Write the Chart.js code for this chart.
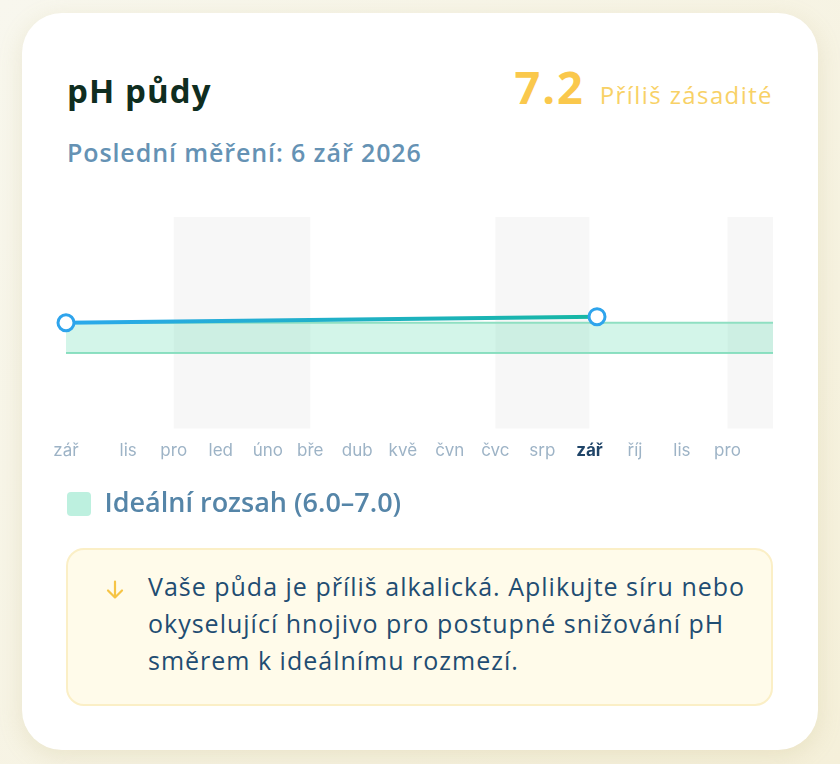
<!DOCTYPE html>
<html lang="cs">
<head>
<meta charset="utf-8">
<script src="https://cdn.jsdelivr.net/npm/chart.js@4.4.1/dist/chart.umd.min.js"></script>
<style>
  html, body { margin: 0; padding: 0; }
  body {
    width: 840px; height: 764px; overflow: hidden; position: relative;
    background: linear-gradient(135deg, #f8f7ee 0%, #f5f0da 100%);
    font-family: "Open Sans", "Noto Sans", sans-serif;
  }
  .card {
    position: absolute; left: 22px; top: 13px; width: 796px; height: 737px;
    background: #ffffff; border-radius: 40px;
    box-shadow: 0 6px 24px rgba(180, 160, 90, 0.18);
  }
  .title {
    position: absolute; left: 67px; top: 67px; margin: 0;
    font-size: 33px; font-weight: 700; color: #0f2d20; line-height: 48px;
    letter-spacing: 1.1px; white-space: nowrap;
  }
  .subtitle {
    position: absolute; left: 67px; top: 135px;
    font-size: 25px; font-weight: 600; color: #6592b4; line-height: 34px;
    letter-spacing: 0.9px; white-space: nowrap;
  }
  .status {
    position: absolute; right: 67px; top: 56px; white-space: nowrap;
    display: flex; align-items: baseline; gap: 15px;
  }
  .status .val { font-size: 45px; font-weight: 700; color: #fac84c; letter-spacing: 2px; }
  .status .lbl { font-size: 24px; font-weight: 500; color: #f8d166; letter-spacing: 1.4px; }
  .chartwrap { position: absolute; left: 40px; top: 190px; width: 760px; height: 340px; }
  .tip {
    position: absolute; left: 66px; top: 548px; width: 703px; height: 154px;
    background: #fffbea; border: 2px solid #fbefc6; border-radius: 18px;
  }
  .tip svg { position: absolute; left: 37px; top: 30px; }
  .tip .text {
    position: absolute; left: 80px; top: 18px;
    font-size: 25px; font-weight: 500; color: #1f4d72; line-height: 37px;
    letter-spacing: 1px; white-space: nowrap;
  }
</style>
</head>
<body>
<div class="card"></div>
<h1 class="title">pH půdy</h1>
<div class="subtitle">Poslední měření: 6 zář 2026</div>
<div class="status"><span class="val">7.2</span><span class="lbl">Příliš zásadité</span></div>
<div class="chartwrap"><canvas id="c" width="760" height="340"></canvas></div>
<div class="tip">
  <svg width="20" height="20" viewBox="0 0 20 20"><path d="M10 1.5 V17.5 M3 10.5 L10 17.5 L17 10.5" fill="none" stroke="#f6c445" stroke-width="2.2" stroke-linecap="round" stroke-linejoin="round"/></svg>
  <div class="text">Vaše půda je příliš alkalická. Aplikujte síru nebo<br>okyselující hnojivo pro postupné snižování pH<br>směrem k ideálnímu rozmezí.</div>
</div>
<script>
// ---- data ----
const measurementDates = ['2025-09-21', '2026-09-06'];
const phValues = [7.0, 7.2];
const idealRange = [6.0, 7.0];
const idealLabel = 'Ideální rozsah (6.0–7.0)';
const axisRange = ['2025-09-21', '2026-12-31'];
const yRange = [3.5, 10.5];
const monthLabels = ['led', 'úno', 'bře', 'dub', 'kvě', 'čvn', 'čvc', 'srp', 'zář', 'říj', 'lis', 'pro'];
const shadedPeriods = [['2025-12-01', '2026-03-01'], ['2026-07-01', '2026-09-01'], ['2026-12-01', '2026-12-31']];
const currentMonth = '2026-09';

// ---- helpers ----
const DAY = 86400000;
const toDay = s => Date.parse(s + 'T00:00:00Z') / DAY;
const fromDay = d => new Date(d * DAY);
const xMin = toDay(axisRange[0]);
const xMax = toDay(axisRange[1]);

const phPoints = measurementDates.map((d, i) => ({ x: toDay(d), y: phValues[i] }));
const idealHigh = [{ x: xMin, y: idealRange[1] }, { x: xMax, y: idealRange[1] }];
const idealLow = [{ x: xMin, y: idealRange[0] }, { x: xMax, y: idealRange[0] }];

function monthKey(v) {
  const d = fromDay(v);
  return d.getUTCFullYear() + '-' + String(d.getUTCMonth() + 1).padStart(2, '0');
}
const isCurrent = c => c.tick && c.index > 0 && monthKey(c.tick.value) === currentMonth;

const shadePlugin = {
  id: 'shade',
  beforeDatasetsDraw(chart) {
    const { ctx, chartArea, scales: { x } } = chart;
    ctx.save();
    ctx.fillStyle = '#f7f7f7';
    shadedPeriods.forEach(([a, b]) => {
      const x1 = Math.max(x.getPixelForValue(toDay(a)), chartArea.left);
      const x2 = Math.min(x.getPixelForValue(toDay(b)), chartArea.right);
      ctx.fillRect(x1, chartArea.top, x2 - x1, chartArea.bottom - chartArea.top);
    });
    ctx.restore();
  }
};

const ctx = document.getElementById('c').getContext('2d');
new Chart(ctx, {
  type: 'line',
  data: {
    datasets: [
      {
        label: 'pH',
        data: phPoints,
        clip: false,
        borderWidth: 4,
        borderColor(c) {
          const ca = c.chart.chartArea;
          if (!ca) return '#2aa7e6';
          const xs = c.chart.scales.x;
          const g = c.chart.ctx.createLinearGradient(xs.getPixelForValue(phPoints[0].x), 0, xs.getPixelForValue(phPoints[phPoints.length - 1].x), 0);
          g.addColorStop(0, '#2ba9ec');
          g.addColorStop(1, '#16b7a4');
          return g;
        },
        pointRadius: 8,
        pointBorderWidth: 3,
        pointBackgroundColor: '#ffffff',
        pointBorderColor: '#2ea4ec',
        fill: false,
        order: 0
      },
      {
        label: idealLabel,
        data: idealHigh,
        borderColor: '#8fdfc2',
        borderWidth: 2,
        backgroundColor: 'rgba(118, 224, 188, 0.32)',
        pointRadius: 0,
        fill: '+1',
        order: 1
      },
      {
        label: 'low',
        data: idealLow,
        borderColor: '#8fdfc2',
        borderWidth: 2,
        backgroundColor: 'rgba(118, 224, 188, 0.32)',
        pointRadius: 0,
        fill: false,
        order: 2
      }
    ]
  },
  options: {
    responsive: false,
    animation: false,
    layout: { padding: { left: 26, right: 27, top: 27, bottom: 2.5 } },
    plugins: {
      tooltip: { enabled: false },
      legend: {
        position: 'bottom',
        align: 'start',
        labels: {
          boxWidth: 24,
          boxHeight: 24,
          useBorderRadius: true,
          borderRadius: 4,
          padding: 1,
          color: '#5585a8',
          font: { family: '"Open Sans", sans-serif', size: 27, weight: '600' },
          generateLabels() {
            return [{
              text: idealLabel,
              fillStyle: '#bdf0df',
              strokeStyle: '#bdf0df',
              lineWidth: 0,
              borderRadius: 4,
              datasetIndex: 1,
              fontColor: '#5585a8'
            }];
          }
        }
      }
    },
    scales: {
      x: {
        type: 'linear',
        min: xMin,
        max: xMax,
        grid: { display: false },
        border: { display: false },
        afterFit(axis) { axis.height = 61; },
        afterBuildTicks(axis) {
          const ticks = [{ value: xMin }];
          const start = fromDay(xMin);
          let y = start.getUTCFullYear(), m = start.getUTCMonth() + 1;
          while (true) {
            const v = Date.UTC(y, m, 1) / DAY;
            if (v > xMax) break;
            if (v - xMin > 20) ticks.push({ value: v });
            m++; if (m > 11) { m = 0; y++; }
          }
          axis.ticks = ticks;
        },
        ticks: {
          autoSkip: false,
          maxRotation: 0,
          padding: 4,
          callback: v => monthLabels[fromDay(v).getUTCMonth()],
          color: c => isCurrent(c) ? '#1f4468' : '#9db3c6',
          font: c => ({ family: 'Inter, sans-serif', size: 17, weight: isCurrent(c) ? '700' : '400' })
        }
      },
      y: {
        display: false,
        min: yRange[0],
        max: yRange[1]
      }
    }
  },
  plugins: [shadePlugin]
});
</script>
</body>
</html>
